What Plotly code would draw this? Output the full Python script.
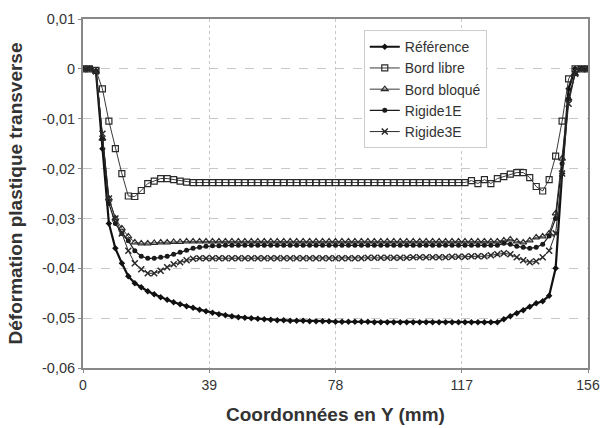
import plotly.graph_objects as go

y_mm = [0, 2, 4, 6, 8, 10, 12, 14, 16, 18, 20, 22, 24, 26, 28, 30, 32, 34, 36, 38,
        40, 42, 44, 46, 48, 50, 52, 54, 56, 58, 60, 62, 64, 66, 68, 70, 72, 74, 76, 78,
        80, 82, 84, 86, 88, 90, 92, 94, 96, 98, 100, 102, 104, 106, 108, 110, 112, 114, 116, 118,
        120, 122, 124, 126, 128, 130, 132, 134, 136, 138, 140, 142, 144, 146, 148, 150, 152, 154, 156]

reference = [0, 0, -0.0005, -0.016, -0.031, -0.036, -0.039, -0.0416, -0.043, -0.0438,
             -0.0446, -0.0452, -0.0458, -0.0463, -0.0468, -0.0472, -0.0476, -0.0479, -0.0483, -0.0486,
             -0.0489, -0.0492, -0.0494, -0.0496, -0.0498, -0.0499, -0.05, -0.0501, -0.0502, -0.0503,
             -0.0504, -0.0504, -0.0505, -0.0505, -0.0505, -0.0506, -0.0506, -0.0506, -0.0506, -0.0507,
             -0.0507, -0.0507, -0.0507, -0.0507, -0.0507, -0.0508, -0.0508, -0.0508, -0.0508, -0.0508,
             -0.0508, -0.0508, -0.0508, -0.0508, -0.0508, -0.0508, -0.0508, -0.0508, -0.0508, -0.0508,
             -0.0508, -0.0508, -0.0508, -0.0508, -0.0508, -0.0502, -0.0496, -0.049, -0.0484, -0.0477,
             -0.047, -0.0466, -0.0455, -0.04, -0.021, -0.004, 0, 0, 0]

bord_libre = [0, 0, -0.0003, -0.004, -0.0105, -0.016, -0.021, -0.0255, -0.0256, -0.0244,
              -0.023, -0.0225, -0.022, -0.022, -0.0222, -0.0225, -0.0227, -0.0228, -0.0228, -0.0228,
              -0.0228, -0.0228, -0.0228, -0.0228, -0.0228, -0.0228, -0.0228, -0.0228, -0.0228, -0.0228,
              -0.0228, -0.0228, -0.0228, -0.0228, -0.0228, -0.0228, -0.0228, -0.0228, -0.0228, -0.0228,
              -0.0228, -0.0228, -0.0228, -0.0228, -0.0228, -0.0228, -0.0228, -0.0228, -0.0228, -0.0228,
              -0.0228, -0.0228, -0.0228, -0.0228, -0.0228, -0.0228, -0.0228, -0.0228, -0.0228, -0.0228,
              -0.0224, -0.023, -0.0222, -0.023, -0.022, -0.0216, -0.0211, -0.0208, -0.0208, -0.0218,
              -0.0236, -0.0245, -0.0222, -0.0175, -0.0105, -0.002, 0, 0, 0]

bord_bloque = [0, 0, -0.0005, -0.014, -0.026, -0.03, -0.032, -0.0336, -0.0348, -0.035,
               -0.035, -0.0349, -0.0348, -0.0348, -0.0347, -0.0347, -0.0346, -0.0346, -0.0346, -0.0346,
               -0.0346, -0.0346, -0.0346, -0.0346, -0.0346, -0.0346, -0.0346, -0.0346, -0.0346, -0.0346,
               -0.0346, -0.0346, -0.0346, -0.0346, -0.0346, -0.0346, -0.0346, -0.0346, -0.0346, -0.0346,
               -0.0346, -0.0346, -0.0346, -0.0346, -0.0346, -0.0346, -0.0346, -0.0346, -0.0346, -0.0346,
               -0.0346, -0.0346, -0.0346, -0.0346, -0.0346, -0.0346, -0.0346, -0.0346, -0.0346, -0.0346,
               -0.0346, -0.0346, -0.0346, -0.0346, -0.0346, -0.0344, -0.0342, -0.0346, -0.0348, -0.0344,
               -0.0338, -0.0336, -0.033, -0.029, -0.018, -0.006, -0.001, 0, 0]

rigide1e = [0, 0, -0.0005, -0.014, -0.027, -0.031, -0.033, -0.0345, -0.0365, -0.0376,
            -0.038, -0.038, -0.0378, -0.0376, -0.0372, -0.0368, -0.0364, -0.036, -0.0358, -0.0356,
            -0.0355, -0.0355, -0.0354, -0.0354, -0.0354, -0.0354, -0.0354, -0.0354, -0.0354, -0.0354,
            -0.0354, -0.0354, -0.0354, -0.0354, -0.0354, -0.0354, -0.0354, -0.0354, -0.0354, -0.0354,
            -0.0354, -0.0354, -0.0354, -0.0354, -0.0354, -0.0354, -0.0354, -0.0354, -0.0354, -0.0354,
            -0.0354, -0.0354, -0.0354, -0.0354, -0.0354, -0.0354, -0.0354, -0.0354, -0.0354, -0.0354,
            -0.0354, -0.0354, -0.0354, -0.0354, -0.0354, -0.035, -0.0352, -0.0356, -0.0358, -0.036,
            -0.0358, -0.0352, -0.0335, -0.03, -0.019, -0.006, -0.001, 0, 0]

rigide3e = [0, 0, -0.0005, -0.013, -0.026, -0.03, -0.033, -0.0365, -0.039, -0.0402,
            -0.041, -0.041, -0.0405, -0.0398, -0.0392, -0.0388, -0.0384, -0.0381, -0.038, -0.038,
            -0.038, -0.038, -0.038, -0.038, -0.038, -0.038, -0.038, -0.038, -0.038, -0.038,
            -0.038, -0.038, -0.038, -0.038, -0.038, -0.038, -0.038, -0.038, -0.038, -0.038,
            -0.038, -0.038, -0.038, -0.038, -0.0379, -0.0379, -0.0379, -0.0379, -0.0379, -0.0379,
            -0.0379, -0.0378, -0.0378, -0.0378, -0.0378, -0.0378, -0.0378, -0.0377, -0.0377, -0.0377,
            -0.0376, -0.0376, -0.0376, -0.0374, -0.0372, -0.037, -0.0372, -0.0378, -0.0384, -0.0388,
            -0.0386, -0.0378, -0.0365, -0.033, -0.021, -0.007, -0.001, 0, 0]

y_ticks = [0.01, 0, -0.01, -0.02, -0.03, -0.04, -0.05, -0.06]
y_tick_labels = ["0,01", "0", "-0,01", "-0,02", "-0,03", "-0,04", "-0,05", "-0,06"]
x_ticks = [0, 39, 78, 117, 156]

fig = go.Figure()
fig.add_trace(go.Scatter(x=y_mm, y=reference, name="Référence", mode="lines+markers",
                         line=dict(color="#111111", width=2.2),
                         marker=dict(symbol="diamond", size=5, color="#111111")))
fig.add_trace(go.Scatter(x=y_mm, y=bord_libre, name="Bord libre", mode="lines+markers",
                         line=dict(color="#3a3a3a", width=1),
                         marker=dict(symbol="square-open", size=6, color="#2a2a2a", line=dict(width=1.2))))
fig.add_trace(go.Scatter(x=y_mm, y=bord_bloque, name="Bord bloqué", mode="lines+markers",
                         line=dict(color="#3a3a3a", width=1),
                         marker=dict(symbol="triangle-up-open", size=6, color="#2a2a2a", line=dict(width=1.2))))
fig.add_trace(go.Scatter(x=y_mm, y=rigide1e, name="Rigide1E", mode="lines+markers",
                         line=dict(color="#1a1a1a", width=1.2),
                         marker=dict(symbol="circle", size=5, color="#1a1a1a")))
fig.add_trace(go.Scatter(x=y_mm, y=rigide3e, name="Rigide3E", mode="lines+markers",
                         line=dict(color="#2a2a2a", width=1),
                         marker=dict(symbol="x-thin", size=6, color="#2a2a2a", line=dict(width=1.5, color="#2a2a2a"))))

base_font = "Liberation Sans, Arial, sans-serif"
fig.update_layout(
    width=601, height=428,
    margin=dict(l=83, r=13, t=19, b=60),
    paper_bgcolor="white", plot_bgcolor="white",
    font=dict(family=base_font, size=14, color="#333333"),
    showlegend=True,
    legend=dict(x=0.556, y=0.968, xanchor="left", yanchor="top",
                bgcolor="white", bordercolor="#cccccc", borderwidth=1,
                font=dict(family=base_font, size=14, color="#333333"),
                tracegroupgap=0, itemwidth=30),
    xaxis=dict(range=[0, 156], tickmode="array", tickvals=x_ticks, automargin=False,
               tickfont=dict(size=14),
               showline=True, mirror=True, linecolor="#888888", linewidth=2,
               showgrid=True, gridcolor="#c8c8c8", griddash="dot", gridwidth=1,
               zeroline=False, ticks="outside", ticklen=3, tickcolor="#888888",
               title=dict(text="<b>Coordonnées en Y (mm)</b>", font=dict(size=19, color="#333333"), standoff=16)),
    yaxis=dict(range=[-0.06, 0.01], tickmode="array", tickvals=y_ticks, ticktext=y_tick_labels,
               automargin=False, tickfont=dict(size=14.5),
               showline=True, mirror=True, linecolor="#888888", linewidth=2,
               showgrid=True, gridcolor="#c8c8c8", griddash="dash", gridwidth=1,
               zeroline=False, ticks="outside", ticklen=3, tickcolor="#888888",
               title=dict(text="<b>Déformation plastique transverse</b>", font=dict(size=19, color="#333333"), standoff=14)),
)

fig.write_html("out.html", config={"displayModeBar": False},
               post_script="document.body.style.margin='0';document.body.style.overflow='hidden';")
